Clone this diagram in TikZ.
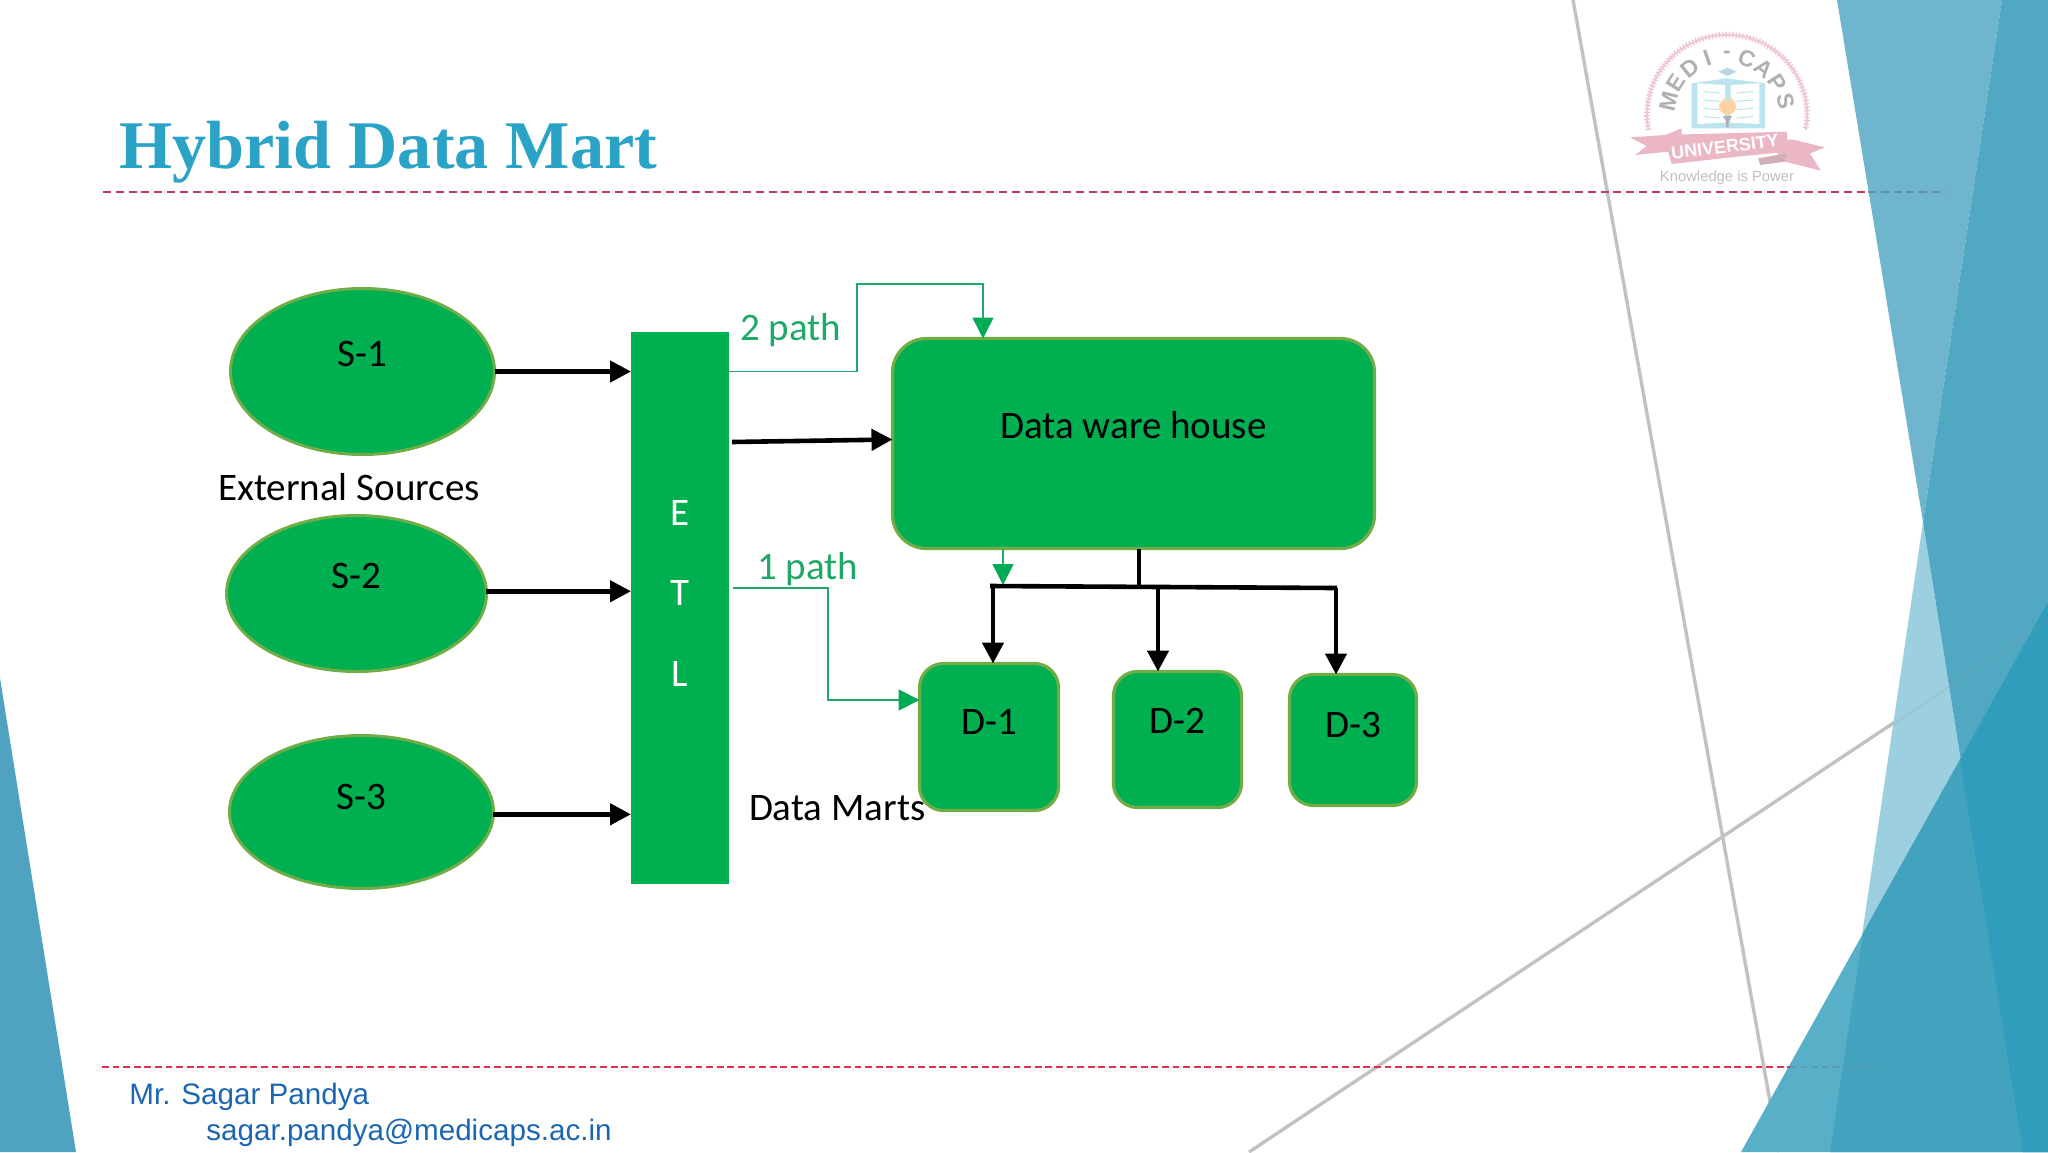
\documentclass[tikz,border=0pt]{standalone}
\usepackage{fontspec}
\usetikzlibrary{arrows.meta,shapes.geometric,calc}
\newfontfamily\diagfont{Carlito}
\newfontfamily\titlefont{Liberation Serif}
\newfontfamily\footfont{Liberation Sans}
\definecolor{boxgreen}{HTML}{00B050}
\definecolor{rimgreen}{HTML}{70AD47}
\definecolor{pathgreen}{HTML}{1FA968}
\definecolor{titleblue}{HTML}{2BA3C6}
\definecolor{footblue}{HTML}{1A66B2}
\definecolor{facetA}{HTML}{6FB5CE}
\definecolor{facetB}{HTML}{9CCFDF}
\definecolor{facetC}{HTML}{50A8C3}
\definecolor{facetD}{HTML}{57AFC8}
\definecolor{facetE}{HTML}{43A3BE}
\definecolor{facetF}{HTML}{2F9DBB}
\definecolor{facetL}{HTML}{4FA3C1}
\definecolor{ruleA}{HTML}{C93A56}
\definecolor{ruleB}{HTML}{E0304E}
\definecolor{ruleG}{HTML}{5F8FA6}
\definecolor{logopink}{HTML}{EBB7C4}
\definecolor{logoarc}{HTML}{EFC9D2}
\definecolor{logogray}{HTML}{B0B0B0}
\definecolor{logoblue}{HTML}{BCE4EF}
\newcommand{\up}[2]{\raisebox{#1}[0pt][0pt]{#2}}
\tikzset{
  diagtext/.style={font=\diagfont\fontsize{19.5}{22}\selectfont,inner sep=0pt,outer sep=0pt},
  srcshape/.style={ellipse,draw=rimgreen,line width=1.5pt,fill=boxgreen,inner sep=0pt,outer sep=0pt,diagtext},
  bigbox/.style={rectangle,rounded corners=17pt,draw=rimgreen,line width=1.6pt,fill=boxgreen,inner sep=0pt,outer sep=0pt,diagtext},
  martbox/.style={rectangle,rounded corners=12pt,draw=rimgreen,line width=1.6pt,fill=boxgreen,inner sep=0pt,outer sep=0pt,diagtext},
  etlbox/.style={rectangle,fill=boxgreen,inner sep=0pt,outer sep=0pt},
  blackarrow/.style={draw=black,line width=2.3pt,-{Triangle[length=10.5pt,width=10.5pt]}},
  blackline/.style={draw=black,line width=2.3pt},
  greenarrow/.style={draw=pathgreen,line width=0.8pt,-{Triangle[length=10.5pt,width=10.5pt,color=boxgreen!90!teal]}},
  greentext/.style={diagtext,text=pathgreen,anchor=base west},
  blacktext/.style={diagtext,text=black,anchor=base west},
  etlletter/.style={diagtext,text=white,anchor=base},
  foottext/.style={font=\footfont\fontsize{14.8}{17}\selectfont,text=footblue,inner sep=0pt,anchor=base west},
  decoline/.style={draw=black!24,line width=1.7pt},
  decofaint/.style={draw=black!40,line width=1.4pt,opacity=.15},
}
\begin{document}
\begin{tikzpicture}[x=0.5pt,y=-0.5pt]
\useasboundingbox (0,0) rectangle (2048,1152);
% ---------- decorative lines under the facets
\draw[decoline] (1573,0) -- (1779,1152);
\draw[decoline] (1249,1152) -- (2048,620);
% ---------- facets
\fill[facetA] (1837,0) -- (2002,0) -- (1923,522) -- cycle;
\fill[facetB] (1923,522) -- (2023,1152) -- (1830,1152) -- cycle;
\fill[facetC] (2002,0) -- (2048,0) -- (2048,1152) -- (2023,1152) -- (1923,522) -- cycle;
\fill[facetD] (2048,602) -- (2048,1152) -- (1741,1152) -- cycle;
\fill[facetE] (1863,933) -- (2048,602) -- (2048,1152) -- (1830,1152) -- cycle;
\fill[facetF] (1960,760) -- (2048,602) -- (2048,1152) -- (2023,1152) -- cycle;
\fill[facetL] (0,678) -- (76,1152) -- (0,1152) -- cycle;
\draw[decofaint] (1888,728) -- (2048,620);
% ---------- rules
\draw[ruleA,line width=1pt,dash pattern=on 4pt off 2.4pt] (103,191.5) -- (1868,191.5);
\draw[ruleG,line width=1pt,dash pattern=on 4pt off 2.4pt] (1868,191.5) -- (1946,191.5);
\draw[ruleB,line width=.8pt,dash pattern=on 3.4pt off 1.9pt] (102,1067) -- (1790,1067);
\draw[ruleG,line width=.7pt,opacity=.6,dash pattern=on 3.4pt off 1.9pt] (1790,1067) -- (1880,1067);
% ---------- title and footer
\node[font=\titlefont\bfseries\fontsize{34.1}{38}\selectfont,text=titleblue,inner sep=0pt,anchor=base west] (title) at (119,168) {Hybrid Data Mart};
\node[foottext] (footname) at (129,1104) {Mr. Sagar Pandya};
\node[foottext] (footmail) at (206,1140) {sagar.pandya@medicaps.ac.in};
% ---------- logo
\draw[logoarc,line width=1.1pt] (1648.5,130) arc[start angle=191,end angle=-11,radius=40pt];
\draw[logoarc,line width=3pt,dash pattern=on .7pt off 1pt] (1648.5,130) arc[start angle=191,end angle=-11,radius=40pt];
\begin{scope}[shift={(1610,20)},x=0.16667pt,y=-0.16667pt]
  % book
  \fill[logoblue] (245,190) -- (350,175) -- (465,190) -- (465,325) -- (245,325) -- cycle;
  \fill[white] (262,190) -- (345,195) -- (345,308) -- (262,312) -- cycle;
  \fill[white] (362,195) -- (448,190) -- (448,312) -- (362,308) -- cycle;
  \foreach \yy in {215,240,265,290}{
    \draw[logoblue,line width=.5pt] (280,\yy) -- (330,\yy+4);
    \draw[logoblue,line width=.5pt] (380,\yy+4) -- (430,\yy);
  }
  % cap
  \fill[logoblue!90!gray] (325,155) -- (352,143) -- (380,155) -- (352,168) -- cycle;
  % flame and torch
  \fill[orange!35] (352,285) .. controls (315,275) and (325,245) .. (345,235) .. controls (350,250) and (360,245) .. (362,232) .. controls (385,250) and (385,280) .. (352,285);
  \fill[logogray] (338,288) -- (366,288) -- (356,302) -- (356,322) -- (348,322) -- (348,302) -- cycle;
  % ribbon
  \fill[logopink] (60,352) -- (165,345) -- (215,325) -- (215,345) -- (175,395) -- (75,405) -- (110,378) -- cycle;
  \fill[logopink] (500,365) -- (545,358) -- (645,382) -- (600,400) -- (632,452) -- (505,420) -- cycle;
  \fill[logopink!70!gray!90] (445,415) -- (530,400) -- (525,425) -- (450,435) -- cycle;
  \fill[logopink] (160,345) -- (530,335) -- (535,395) -- (380,410) -- (185,432) -- cycle;
  \node[font=\footfont\bfseries\fontsize{9}{10}\selectfont,text=white,rotate=7,inner sep=0pt] (logouni) at (345,380) {UNIVERSITY};
\end{scope}
\foreach \ch [count=\i from 0] in {M,E,D,I,-,C,A,P,S}{
  \pgfmathsetmacro{\ang}{-77+\i*19.25}
  \node[font=\footfont\bfseries\fontsize{11.5}{13}\selectfont,text=logogray,inner sep=0pt,rotate=-\ang] (logo\i) at ({1727+60*sin(\ang)},{115-60*cos(\ang)}) {\ch};
}
\node[font=\footfont\fontsize{7.4}{9}\selectfont,text=black!25,inner sep=0pt] (logomotto) at (1727,178) {Knowledge is Power};
% ---------- diagram nodes
\node[srcshape,minimum width=132pt,minimum height=83pt] (s1) at (362.5,371.5) {\up{2.5pt}{S-1}};
\node[srcshape,minimum width=130pt,minimum height=78pt] (s2) at (356.5,593.5) {\up{2.5pt}{S-2}};
\node[srcshape,minimum width=132pt,minimum height=76.5pt] (s3) at (361.5,812) {\up{1.2pt}{S-3}};
\node[etlbox,minimum width=49pt,minimum height=276pt] (etl) at (680,608) {};
\node[bigbox,minimum width=241pt,minimum height=105pt] (dw) at (1133.5,443.5) {\up{2.75pt}{Data ware house}};
\node[martbox,minimum width=69.5pt,minimum height=73.5pt] (d1) at (989,737) {\up{1.5pt}{D-1}};
\node[martbox,minimum width=64pt,minimum height=68pt] (d2) at (1177.5,739.5) {\up{3.25pt}{D-2}};
\node[martbox,minimum width=63.5pt,minimum height=65.5pt] (d3) at (1353,740) {\up{1.5pt}{D-3}};
\node[etlletter] (letE) at (680,525) {E};
\node[etlletter] (letT) at (680,605) {T};
\node[etlletter] (letL) at (680,686) {L};
\node[blacktext] (extsrc) at (218,500) {External Sources};
\node[blacktext] (marts) at (749,820) {Data Marts};
\node[greentext] (path2) at (740,340) {2 path};
\node[greentext] (path1) at (757,579.5) {1 path};
% ---------- waypoints
\coordinate (w2a) at (857,284);
\coordinate (w2b) at (983,284);
\coordinate (w1s) at (733,588);
\coordinate (w1a) at (828,700);
\coordinate (w3) at (1003,585);
\coordinate (busL) at (990,586);
\coordinate (busM) at (1139,587);
\coordinate (busR) at (1337,588);
\coordinate (bus1) at (993,586);
\coordinate (bus2) at (1158,587);
\coordinate (bus3) at (1336,588);
\coordinate (etlout) at (732,442);
% ---------- connectors
\draw[blackarrow] (s1.east) -- (s1.east -| etl.west);
\draw[blackarrow] (s2.1) -- (s2.1 -| etl.west);
\draw[blackarrow] (s3.-1) -- (s3.-1 -| etl.west);
\draw[blackarrow] (etlout) -- ($(dw.west)+(0,-4)$);
\draw[greenarrow] (etl.east |- s1.east) -| (w2a) -- (w2b) -- (w2b |- dw.north);
\draw[greenarrow] (w1s) -| (w1a) -- (w1a -| d1.west);
\draw[greenarrow] (w3 |- dw.south) -- (w3);
\draw[blackline] (busM |- dw.south) -- (busM);
\draw[blackline] (busL) -- (busR);
\draw[blackarrow] (bus1) -- (bus1 |- d1.north);
\draw[blackarrow] (bus2) -- (bus2 |- d2.north);
\draw[blackarrow] (bus3) -- (bus3 |- d3.north);
\end{tikzpicture}
\end{document}
